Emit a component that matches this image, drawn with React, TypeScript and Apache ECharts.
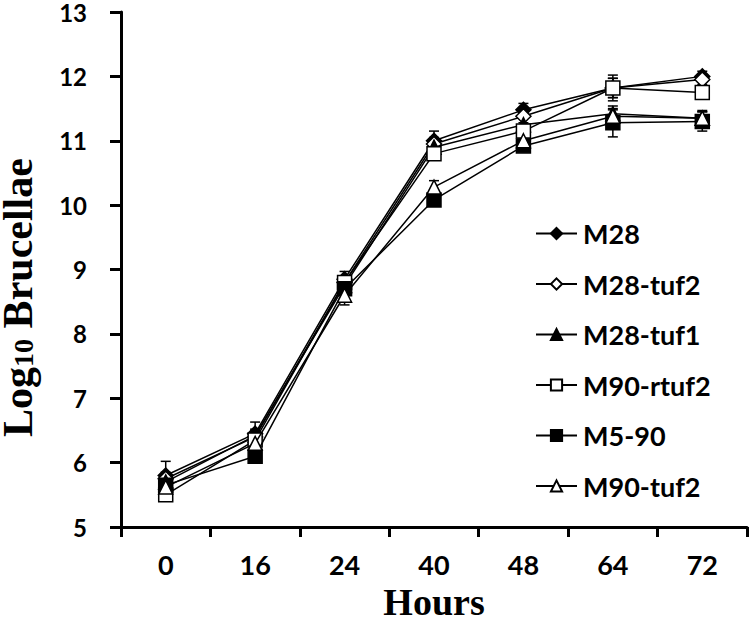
import React, { useEffect, useRef } from "react";
import * as echarts from "echarts";

const hours = ["0", "16", "24", "40", "48", "64", "72"];
const seriesNames = ["M28", "M28-tuf2", "M28-tuf1", "M90-rtuf2", "M5-90", "M90-tuf2"];
const m28 = [5.8, 6.45, 8.85, 11.0, 11.48, 11.82, 12.0];
const m28Err = [0.22, 0.18, 0.12, 0.15, 0.1, 0.2, 0.08];
const m28tuf2 = [5.75, 6.4, 8.8, 10.95, 11.38, 11.82, 11.95];
const m28tuf2Err = [0.1, 0.1, 0.1, 0.1, 0.1, 0.15, 0.08];
const m28tuf1 = [5.7, 6.42, 8.75, 10.9, 11.25, 11.42, 11.35];
const m28tuf1Err = [0.1, 0.1, 0.1, 0.1, 0.1, 0.12, 0.12];
const m90rtuf2 = [5.5, 6.35, 8.8, 10.8, 11.15, 11.82, 11.75];
const m90rtuf2Err = [0.08, 0.1, 0.1, 0.1, 0.1, 0.15, 0.1];
const m590 = [5.65, 6.1, 8.7, 10.08, 10.92, 11.28, 11.3];
const m590Err = [0.08, 0.08, 0.1, 0.08, 0.08, 0.22, 0.15];
const m90tuf2 = [5.62, 6.3, 8.6, 10.28, 11.0, 11.38, 11.35];
const m90tuf2Err = [0.08, 0.1, 0.15, 0.1, 0.1, 0.1, 0.1];

const values = [m28, m28tuf2, m28tuf1, m90rtuf2, m590, m90tuf2];
const errors = [m28Err, m28tuf2Err, m28tuf1Err, m90rtuf2Err, m590Err, m90tuf2Err];
const symbols = ["diamond", "diamond", "triangle", "rect", "rect", "triangle"];
const filled = [true, false, true, false, true, false];
const sizes = [15, 15, 14, 14, 14, 14];

export default function App() {
  const ref = useRef<HTMLDivElement>(null);
  useEffect(() => {
    if (!ref.current) return;
    const chart = echarts.init(ref.current, null, { renderer: "svg" });
    const lineSeries: any[] = seriesNames.map((name, i) => ({
      name,
      type: "line",
      data: values[i],
      symbol: symbols[i],
      symbolSize: sizes[i],
      z: 3 + i,
      lineStyle: { color: "#000", width: 1.5 },
      itemStyle: {
        color: filled[i] ? "#000" : "#fff",
        borderColor: "#000",
        borderWidth: 1.5,
      },
    }));
    const errSeries: any[] = seriesNames.map((name, i) => ({
      name: name + " err",
      type: "custom",
      z: 2,
      silent: true,
      data: values[i].map((v, j) => [j, v, errors[i][j]]),
      renderItem: (params: any, api: any) => {
        const x = api.value(0);
        const v = api.value(1);
        const e = api.value(2);
        const top = api.coord([x, v + e]);
        const bot = api.coord([x, v - e]);
        const style = { stroke: "#000", lineWidth: 1.5 };
        return {
          type: "group",
          children: [
            { type: "line", shape: { x1: top[0], y1: top[1], x2: bot[0], y2: bot[1] }, style },
            { type: "line", shape: { x1: top[0] - 5, y1: top[1], x2: top[0] + 5, y2: top[1] }, style },
            { type: "line", shape: { x1: bot[0] - 5, y1: bot[1], x2: bot[0] + 5, y2: bot[1] }, style },
          ],
        };
      },
    }));
    chart.setOption({
      animation: false,
      backgroundColor: "#fff",
      grid: { left: 121, right: 3, top: 12, bottom: 94, outerBoundsMode: "none", containLabel: false },
      legend: {
        data: seriesNames,
        orient: "vertical",
        left: 535,
        top: 220,
        padding: 0,
        itemWidth: 41,
        itemHeight: 14,
        itemGap: 23.5,
        textStyle: {
          fontFamily: "Lato",
          fontWeight: "bold",
          fontSize: 27,
          color: "#000",
          lineHeight: 27,
          padding: [0, 0, 0, 1],
        },
      },
      xAxis: {
        type: "category",
        data: hours,
        boundaryGap: true,
        name: "Hours",
        nameLocation: "middle",
        nameGap: 56,
        nameTextStyle: {
          fontFamily: "Liberation Serif",
          fontWeight: "bold",
          fontSize: 38,
          lineHeight: 36,
          color: "#000",
        },
        axisLine: { lineStyle: { color: "#000", width: 3 } },
        axisTick: { show: true, length: 10, lineStyle: { color: "#000", width: 3 } },
        axisLabel: {
          margin: 24,
          fontFamily: "Lato",
          fontWeight: "bold",
          fontSize: 27,
          color: "#000",
        },
        splitLine: { show: false },
      },
      yAxis: {
        type: "value",
        min: 5,
        max: 13,
        interval: 1,
        name: "{a|Log}{b|10}{a| Brucellae}",
        nameLocation: "middle",
        nameGap: 84,
        nameRotate: 90,
        nameTextStyle: {
          padding: [0, 56, 0, 0],
          rich: {
            a: {
              fontFamily: "Liberation Serif",
              fontWeight: "bold",
              fontSize: 42,
              lineHeight: 38,
              color: "#000",
            },
            b: {
              fontFamily: "Liberation Serif",
              fontWeight: "bold",
              fontSize: 28,
              lineHeight: 38,
              color: "#000",
              verticalAlign: "bottom",
              padding: [14, 0, 0, 0],
            },
          },
        },
        axisLine: { show: true, lineStyle: { color: "#000", width: 3 } },
        axisTick: { show: true, length: 11, lineStyle: { color: "#000", width: 3 } },
        axisLabel: {
          margin: 34,
          fontFamily: "Lato",
          fontWeight: "bold",
          fontSize: 24,
          color: "#000",
        },
        splitLine: { show: false },
      },
      series: [...errSeries, ...lineSeries],
    });
    return () => chart.dispose();
  }, []);
  return (
    <div
      ref={ref}
      style={{ position: "fixed", left: 0, top: 0, width: 750, height: 621, background: "#fff" }}
    />
  );
}
